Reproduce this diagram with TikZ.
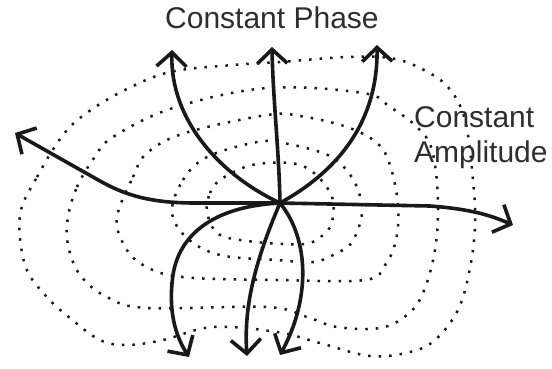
\documentclass[tikz,border=0pt]{standalone}
\usepackage{fontspec}
\setmainfont{Liberation Sans}
\usetikzlibrary{arrows.meta}
\definecolor{ink}{gray}{0.1}
\definecolor{textink}{gray}{0.18}
\begin{document}
\begin{tikzpicture}[x=1pt,y=-1pt,
  curve/.style={line width=3.6pt, draw=ink, line cap=round, -{Straight Barb[length=14pt,width=30pt]}},
  contour/.style={line width=2.5pt, draw=ink, dash pattern=on 2.5pt off 8pt},
  lbl/.style={font=\fontsize{30}{35}\selectfont, text=textink, inner sep=0pt, anchor=base west}]
\fill[white] (0,0) rectangle (552,368);
\useasboundingbox (0,0) rectangle (552,368);

% contours of constant amplitude
\draw[contour] plot[smooth cycle, tension=0.6] coordinates {
  (207,212) (210,193) (220,180) (245,167) (267,163) (290,163) (307,168) (323,182)
  (333,200) (332,222) (325,233) (310,243) (283,244) (240,240) (217,233)};
\draw[contour] plot[smooth cycle, tension=0.6] coordinates {
  (172,212) (183,180) (207,157) (257,142) (283,143) (320,152) (340,163) (356,185)
  (362,213) (352,242) (335,254) (313,262) (277,260) (220,255) (187,238)};
\draw[contour] plot[smooth cycle, tension=0.6] coordinates {
  (117,217) (133,177) (147,153) (185,133) (267,115) (300,116) (347,127) (377,143)
  (390,165) (398,205) (396,240) (385,265) (365,280) (277,280) (182,277) (143,265) (124,245)};
\draw[contour] plot[smooth cycle, tension=0.6] coordinates {
  (68,217) (77,187) (94,158) (113,137) (173,108) (267,88) (363,93) (390,107) (417,127)
  (432,150) (438,200) (435,250) (423,293) (407,315) (380,328) (337,327) (307,317)
  (267,307) (147,308) (107,297) (80,275) (68,245)};
\draw[contour] plot[smooth cycle, tension=0.6] coordinates {
  (20,215) (37,177) (63,135) (88,112) (125,90) (170,72) (233,65) (280,62) (347,57)
  (390,58) (420,68) (448,87) (465,120) (473,180) (475,225) (470,268) (458,310)
  (435,340) (410,352) (370,356) (320,343) (277,332) (213,327) (163,340) (127,345)
  (100,340) (70,318) (45,295) (25,265)};

% named points
\coordinate (c) at (280,203);
\coordinate (tL) at (15,133);
\coordinate (tR) at (513,225);
\coordinate (tU1) at (172,50);
\coordinate (tU2) at (272,47);
\coordinate (tU3) at (377,45);
\coordinate (tD1) at (189,357);
\coordinate (tD2) at (247,356);
\coordinate (tD3) at (280,355);

% curves of constant phase
\draw[curve] (c) -- (195,203) .. controls (150,203) and (125,195) .. (100,181) -- (tL);
\draw[curve] (c) -- (430,206) .. controls (470,209) and (490,215) .. (tR);
\draw[curve] (c) .. controls (220,175) and (170,120) .. (tU1);
\draw[curve] (c) .. controls (279,150) and (273,100) .. (tU2);
\draw[curve] (c) .. controls (340,170) and (378,120) .. (tU3);
\draw[curve] (c) .. controls (220,206) and (180,230) .. (173,275) .. controls (168,310) and (175,335) .. (tD1);
\draw[curve] (c) .. controls (260,250) and (243,300) .. (tD2);
\draw[curve] (c) .. controls (310,240) and (310,300) .. (tD3);

% labels
\node[lbl] (phase) at (165,28) {Constant Phase};
\node[lbl] (amp1) at (414,127) {Constant};
\node[lbl] (amp2) at (414,162) {Amplitude};
\end{tikzpicture}
\end{document}
